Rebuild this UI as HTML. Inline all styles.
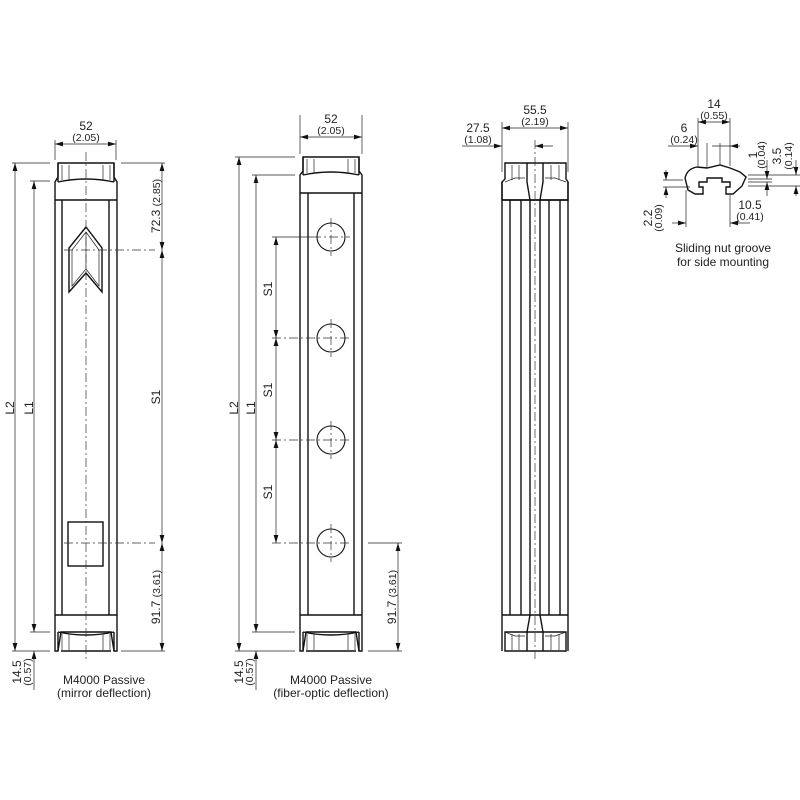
<!DOCTYPE html>
<html><head><meta charset="utf-8"><style>
html,body{margin:0;padding:0;background:#fff;}
svg{display:block}
text{font-family:"Liberation Sans",sans-serif;fill:#222;}
.t{font-size:12px}.s{font-size:10.5px}
.b{stroke:#111;stroke-width:1.4;fill:none}
.f{stroke:#222;stroke-width:0.7;fill:none}
.c{stroke:#333;stroke-width:0.7;fill:none;stroke-dasharray:9 3 2 3}
</style></head><body>
<svg width="800" height="800" viewBox="0 0 800 800" xmlns="http://www.w3.org/2000/svg">
<defs>
<marker id="a" viewBox="0 0 10 6" refX="10" refY="3" markerWidth="8" markerHeight="5" orient="auto-start-reverse" markerUnits="userSpaceOnUse"><path d="M0,0L10,3L0,6z" fill="#111"/></marker>
</defs>

<!-- ===== Body 1 ===== -->
<g class="b">
<path d="M58,163H114V177L117,182V651H114L111,632H61L58,651H55V182L58,177Z" fill="#fff"/>
<line x1="55" y1="200" x2="117" y2="200"/>
<line x1="55" y1="615" x2="117" y2="615"/>
<line x1="62" y1="200" x2="62" y2="615"/>
<line x1="109" y1="200" x2="109" y2="615"/>
<path d="M58,182Q86,176 114,182" /><path d="M58,632Q86,638 114,632"/>
<line x1="58" y1="163" x2="58" y2="182"/><line x1="114" y1="163" x2="114" y2="182"/>
<line x1="58" y1="632" x2="58" y2="651"/><line x1="114" y1="632" x2="114" y2="651"/>
<line x1="61" y1="651" x2="111" y2="651"/>
</g>
<g class="f">
<line x1="62" y1="165" x2="62" y2="180"/><line x1="69" y1="165" x2="69" y2="180"/>
<line x1="103" y1="165" x2="103" y2="180"/><line x1="110" y1="165" x2="110" y2="180"/>
<line x1="62" y1="634" x2="62" y2="650"/><line x1="69" y1="634" x2="69" y2="650"/>
<line x1="103" y1="634" x2="103" y2="650"/><line x1="110" y1="634" x2="110" y2="650"/>
</g>
<path class="b" d="M86,227L69,248V292L86,273L102,292V248Z" stroke-width="1.1"/>
<path class="f" d="M86,232L72,250V286L86,269L99,286V250Z"/>
<line class="f" x1="86" y1="232" x2="86" y2="269"/>
<rect class="b" x="68" y="522" width="35" height="44" stroke-width="1.1"/>
<line class="c" x1="86" y1="152" x2="86" y2="662"/>
<line class="c" x1="64" y1="250" x2="155" y2="250"/>
<line class="c" x1="64" y1="543" x2="155" y2="543"/>
<!-- dims body1 -->
<g class="f">
<line x1="55" y1="140" x2="55" y2="160"/><line x1="116" y1="140" x2="116" y2="160"/>
<line x1="55" y1="144" x2="116" y2="144" marker-start="url(#a)" marker-end="url(#a)"/>
<line x1="12" y1="163" x2="50" y2="163"/><line x1="12" y1="651" x2="50" y2="651"/>
<line x1="30" y1="181" x2="50" y2="181"/><line x1="30" y1="632" x2="50" y2="632"/>
<line x1="15" y1="163" x2="15" y2="651" marker-start="url(#a)" marker-end="url(#a)"/>
<line x1="34" y1="181" x2="34" y2="632" marker-start="url(#a)" marker-end="url(#a)"/>
<line x1="34" y1="651" x2="34" y2="690" marker-start="url(#a)"/>
<line x1="121" y1="163" x2="165" y2="163"/><line x1="121" y1="651" x2="165" y2="651"/>
<line x1="162" y1="163" x2="162" y2="250" marker-start="url(#a)" marker-end="url(#a)"/>
<line x1="162" y1="250" x2="162" y2="543" marker-start="url(#a)" marker-end="url(#a)"/>
<line x1="162" y1="543" x2="162" y2="651" marker-start="url(#a)" marker-end="url(#a)"/>
</g>
<text class="t" x="86" y="130" text-anchor="middle">52</text>
<text class="s" x="86" y="141" text-anchor="middle">(2.05)</text>
<text class="t" transform="translate(14,408) rotate(-90)" text-anchor="middle">L2</text>
<text class="t" transform="translate(33,408) rotate(-90)" text-anchor="middle">L1</text>
<text class="t" transform="translate(160,206) rotate(-90)" text-anchor="middle">72.3 <tspan class="s">(2.85)</tspan></text>
<text class="t" transform="translate(160,397) rotate(-90)" text-anchor="middle">S1</text>
<text class="t" transform="translate(160,597) rotate(-90)" text-anchor="middle">91.7 <tspan class="s">(3.61)</tspan></text>
<text class="t" transform="translate(21,672) rotate(-90)" text-anchor="middle">14.5</text>
<text class="s" transform="translate(31,672) rotate(-90)" text-anchor="middle">(0.57)</text>
<text class="t" x="104" y="684" text-anchor="middle">M4000 Passive</text>
<text class="t" x="104" y="697" text-anchor="middle">(mirror deflection)</text>

<!-- ===== Body 2 ===== -->
<g class="b">
<path d="M303,157H359V171L362,175V651H359L356,632H306L303,651H300V175L303,171Z" fill="#fff"/>
<line x1="300" y1="193" x2="362" y2="193"/>
<line x1="300" y1="615" x2="362" y2="615"/>
<line x1="308" y1="193" x2="308" y2="615"/>
<line x1="354" y1="193" x2="354" y2="615"/>
<path d="M303,175Q331,169 359,175"/><path d="M303,632Q331,638 359,632"/>
<line x1="303" y1="157" x2="303" y2="175"/><line x1="359" y1="157" x2="359" y2="175"/>
<line x1="303" y1="632" x2="303" y2="651"/><line x1="359" y1="632" x2="359" y2="651"/>
<line x1="306" y1="651" x2="356" y2="651"/>
<circle cx="331" cy="237" r="14" stroke-width="1.1"/>
<circle cx="331" cy="338" r="14" stroke-width="1.1"/>
<circle cx="331" cy="440" r="14" stroke-width="1.1"/>
<circle cx="331" cy="543" r="14" stroke-width="1.1"/>
</g>
<g class="f">
<line x1="307" y1="159" x2="307" y2="173"/><line x1="314" y1="159" x2="314" y2="173"/>
<line x1="348" y1="159" x2="348" y2="173"/><line x1="355" y1="159" x2="355" y2="173"/>
<line x1="307" y1="634" x2="307" y2="650"/><line x1="314" y1="634" x2="314" y2="650"/>
<line x1="348" y1="634" x2="348" y2="650"/><line x1="355" y1="634" x2="355" y2="650"/>
</g>
<g class="c">
<line x1="312" y1="237" x2="350" y2="237"/><line x1="331" y1="218" x2="331" y2="256"/>
<line x1="272" y1="338" x2="350" y2="338"/><line x1="331" y1="319" x2="331" y2="357"/>
<line x1="272" y1="440" x2="350" y2="440"/><line x1="331" y1="421" x2="331" y2="459"/>
<line x1="272" y1="543" x2="350" y2="543"/><line x1="331" y1="524" x2="331" y2="562"/>
</g>
<g class="f">
<line x1="272" y1="237" x2="312" y2="237"/>
<line x1="300" y1="115" x2="300" y2="154"/><line x1="362" y1="115" x2="362" y2="154"/>
<line x1="300" y1="137" x2="362" y2="137" marker-start="url(#a)" marker-end="url(#a)"/>
<line x1="235" y1="157" x2="295" y2="157"/><line x1="235" y1="651" x2="295" y2="651"/>
<line x1="252" y1="175" x2="295" y2="175"/><line x1="252" y1="632" x2="295" y2="632"/>
<line x1="239" y1="157" x2="239" y2="651" marker-start="url(#a)" marker-end="url(#a)"/>
<line x1="256" y1="175" x2="256" y2="632" marker-start="url(#a)" marker-end="url(#a)"/>
<line x1="256" y1="651" x2="256" y2="690" marker-start="url(#a)"/>
<line x1="276" y1="237" x2="276" y2="338" marker-start="url(#a)" marker-end="url(#a)"/>
<line x1="276" y1="338" x2="276" y2="440" marker-start="url(#a)" marker-end="url(#a)"/>
<line x1="276" y1="440" x2="276" y2="543" marker-start="url(#a)" marker-end="url(#a)"/>
<line x1="368" y1="543" x2="402" y2="543"/><line x1="368" y1="651" x2="402" y2="651"/>
<line x1="398" y1="543" x2="398" y2="651" marker-start="url(#a)" marker-end="url(#a)"/>
</g>
<text class="t" x="331" y="123" text-anchor="middle">52</text>
<text class="s" x="331" y="134" text-anchor="middle">(2.05)</text>
<text class="t" transform="translate(238,408) rotate(-90)" text-anchor="middle">L2</text>
<text class="t" transform="translate(255,408) rotate(-90)" text-anchor="middle">L1</text>
<text class="t" transform="translate(272,289) rotate(-90)" text-anchor="middle">S1</text>
<text class="t" transform="translate(272,390) rotate(-90)" text-anchor="middle">S1</text>
<text class="t" transform="translate(272,492) rotate(-90)" text-anchor="middle">S1</text>
<text class="t" transform="translate(396,597) rotate(-90)" text-anchor="middle">91.7 <tspan class="s">(3.61)</tspan></text>
<text class="t" transform="translate(243,672) rotate(-90)" text-anchor="middle">14.5</text>
<text class="s" transform="translate(253,672) rotate(-90)" text-anchor="middle">(0.57)</text>
<text class="t" x="331" y="684" text-anchor="middle">M4000 Passive</text>
<text class="t" x="331" y="697" text-anchor="middle">(fiber-optic deflection)</text>

<!-- ===== Body 3 ===== -->
<g class="b">
<path d="M505,163H566V179L568,182V200H502V182L505,179Z" fill="#fff"/>
<path d="M502,182V651"/><path d="M568,182V651"/>
<line x1="502" y1="200" x2="568" y2="200"/>
<line x1="502" y1="615" x2="568" y2="615"/>
<path d="M505,632H566V651H505Z"/>
<line x1="510" y1="200" x2="510" y2="615"/><line x1="521" y1="200" x2="521" y2="615"/>
<line x1="549" y1="200" x2="549" y2="615"/><line x1="560" y1="200" x2="560" y2="615"/>
<path d="M527,163V182L530,200V615L527,632V651"/>
<path d="M543,163V182L540,200V615L543,632V651"/>
</g>
<g class="f">
<line x1="512" y1="165" x2="512" y2="180"/><line x1="519" y1="165" x2="519" y2="180"/>
<line x1="551" y1="165" x2="551" y2="180"/><line x1="559" y1="165" x2="559" y2="180"/>
<line x1="512" y1="634" x2="512" y2="650"/><line x1="519" y1="634" x2="519" y2="650"/>
<line x1="551" y1="634" x2="551" y2="650"/><line x1="559" y1="634" x2="559" y2="650"/>
<path d="M505,182L515,178H525"/><path d="M545,178H555L566,182"/>
<path d="M505,632L515,636H525"/><path d="M545,636H555L566,632"/>
</g>
<line class="c" x1="535" y1="140" x2="535" y2="662"/>
<g class="f">
<line x1="502" y1="122" x2="502" y2="172"/><line x1="568" y1="122" x2="568" y2="172"/>
<line x1="502" y1="128" x2="568" y2="128" marker-start="url(#a)" marker-end="url(#a)"/>
<line x1="462" y1="146" x2="502" y2="146" marker-end="url(#a)"/>
<line x1="553" y1="146" x2="535" y2="146" marker-end="url(#a)"/>
</g>
<text class="t" x="535" y="114" text-anchor="middle">55.5</text>
<text class="s" x="535" y="125" text-anchor="middle">(2.19)</text>
<text class="t" x="478" y="132" text-anchor="middle">27.5</text>
<text class="s" x="478" y="143" text-anchor="middle">(1.08)</text>

<!-- ===== Groove ===== -->
<path class="b" d="M685,178C687,170 692,168 697,167L707,168L720,165L730,168L740,172L746,177L742,186L733,194H726V187H730V182H722V178H707V182H699V187H703V194H695L688,190Z" stroke-width="1.1"/>
<g class="f">
<line x1="698" y1="118" x2="698" y2="166"/><line x1="730" y1="118" x2="730" y2="166"/>
<line x1="698" y1="122" x2="730" y2="122" marker-start="url(#a)" marker-end="url(#a)"/>
<line x1="668" y1="146" x2="698" y2="146" marker-end="url(#a)"/>
<line x1="740" y1="146" x2="730" y2="146" marker-end="url(#a)"/>
<line x1="707" y1="143" x2="707" y2="168"/><line x1="720" y1="143" x2="720" y2="165"/>
<line x1="712" y1="146" x2="730" y2="146"/>
<line x1="686" y1="190" x2="686" y2="227"/><line x1="730" y1="195" x2="730" y2="227"/>
<line x1="672" y1="223" x2="686" y2="223" marker-end="url(#a)"/>
<line x1="750" y1="223" x2="730" y2="223" marker-end="url(#a)"/>
<line x1="748" y1="179" x2="772" y2="179"/><line x1="748" y1="182" x2="772" y2="182"/>
<line x1="748" y1="186" x2="800" y2="186"/><line x1="748" y1="175" x2="800" y2="175"/>
<line x1="767" y1="160" x2="767" y2="179" marker-end="url(#a)"/>
<line x1="767" y1="196" x2="767" y2="182" marker-end="url(#a)"/>
<line x1="796" y1="160" x2="796" y2="175" marker-end="url(#a)"/>
<line x1="796" y1="196" x2="796" y2="186" marker-end="url(#a)"/>
<line x1="663" y1="180" x2="683" y2="180"/><line x1="663" y1="187" x2="690" y2="187"/>
<line x1="666" y1="170" x2="666" y2="180" marker-end="url(#a)"/>
<line x1="666" y1="198" x2="666" y2="187" marker-end="url(#a)"/>
</g>
<text class="t" x="714" y="108" text-anchor="middle">14</text>
<text class="s" x="714" y="119" text-anchor="middle">(0.55)</text>
<text class="t" x="684" y="132" text-anchor="middle">6</text>
<text class="s" x="684" y="143" text-anchor="middle">(0.24)</text>
<text class="t" transform="translate(757,155) rotate(-90)" text-anchor="middle">1</text>
<text class="s" transform="translate(765,155) rotate(-90)" text-anchor="middle">(0.04)</text>
<text class="t" transform="translate(781,156) rotate(-90)" text-anchor="middle">3.5</text>
<text class="s" transform="translate(792,156) rotate(-90)" text-anchor="middle">(0.14)</text>
<text class="t" transform="translate(652,218) rotate(-90)" text-anchor="middle">2.2</text>
<text class="s" transform="translate(662,218) rotate(-90)" text-anchor="middle">(0.09)</text>
<text class="t" x="750" y="209" text-anchor="middle">10.5</text>
<text class="s" x="750" y="220" text-anchor="middle">(0.41)</text>
<text class="t" x="723" y="252" text-anchor="middle">Sliding nut groove</text>
<text class="t" x="723" y="266" text-anchor="middle">for side mounting</text>
</svg>
</body></html>
